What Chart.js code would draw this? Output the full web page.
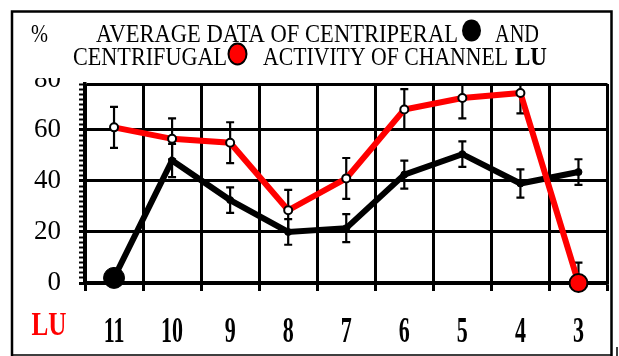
<!DOCTYPE html>
<html>
<head>
<meta charset="utf-8">
<script src="https://cdn.jsdelivr.net/npm/chart.js@4.4.1/dist/chart.umd.min.js"></script>
<style>
    body { margin: 0; background: #fff; }
    canvas { display: block; }
</style>
</head>
<body>
<canvas id="graficoLU" width="619" height="356"></canvas>
<script>
// datos del canal LU (puntos 11 -> 3)
const canales = ["11", "10", "9", "8", "7", "6", "5", "4", "3"];
const centrifuga = [61, 56.5, 55, 28.5, 41, 68, 72.5, 74.5, 0];
const errCentrifuga = [8, 8, 8, 8, 8, 8, 8, 8, 8];
const centripeta = [2, 48, 32.5, 20, 21.5, 42.5, 50.5, 39, 43.5];
const errCentripeta = [0, 6.5, 5, 5, 5.5, 5.5, 5, 5.5, 5];
const marcasY = [0, 20, 40, 60, 80];
const ejeYMax = 78;

const ROJO = "#ff0000";
const NEGRO = "#000000";
const SERIF = "'Liberation Serif', 'Times New Roman', serif";

// texto estirado a un ancho / alto de mayusculas dado
function textoAjustado(ctx, texto, x, base, fuente, ancho, altoMay, align) {
    ctx.save();
    ctx.font = fuente;
    ctx.textAlign = align || "left";
    ctx.textBaseline = "alphabetic";
    const m = ctx.measureText(texto);
    const sx = ancho ? ancho / m.width : 1;
    const sy = altoMay / m.actualBoundingBoxAscent;
    ctx.translate(x, base);
    ctx.scale(sx, sy);
    ctx.fillText(texto, 0, 0);
    ctx.restore();
}

function punto(ctx, x, y, rx, ry, relleno, borde) {
    ctx.beginPath();
    ctx.ellipse(x, y, rx, ry, 0, 0, Math.PI * 2);
    ctx.fillStyle = relleno;
    ctx.fill();
    if (borde) {
        ctx.lineWidth = 2;
        ctx.strokeStyle = borde;
        ctx.stroke();
    }
}

// barras de error (se dibujan antes que las lineas)
const barrasError = {
    id: "barrasError",
    beforeDatasetsDraw(chart) {
        const ctx = chart.ctx;
        const y = chart.scales.y;
        const area = chart.chartArea;
        const errores = [errCentrifuga, errCentripeta];
        ctx.save();
        ctx.beginPath();
        ctx.rect(area.left, area.top, area.right - area.left, area.bottom - area.top);
        ctx.clip();
        ctx.strokeStyle = NEGRO;
        ctx.lineWidth = 2.2;
        chart.data.datasets.forEach((ds, i) => {
            const meta = chart.getDatasetMeta(i);
            meta.data.forEach((p, j) => {
                const e = errores[i][j];
                if (!e) return;
                const yArr = y.getPixelForValue(ds.data[j] + e);
                const yAbj = y.getPixelForValue(ds.data[j] - e);
                ctx.beginPath();
                ctx.moveTo(p.x, yArr);
                ctx.lineTo(p.x, yAbj);
                ctx.moveTo(p.x - 4, yArr);
                ctx.lineTo(p.x + 4, yArr);
                ctx.moveTo(p.x - 4, yAbj);
                ctx.lineTo(p.x + 4, yAbj);
                ctx.stroke();
            });
        });
        ctx.restore();
    }
};

// titulo, etiquetas del eje X, "LU" y marco
const textos = {
    id: "textos",
    afterDraw(chart) {
        const ctx = chart.ctx;
        const x = chart.scales.x;
        const y = chart.scales.y;
        ctx.save();
        ctx.fillStyle = NEGRO;

        textoAjustado(ctx, "%", 31, 41.5, "22px " + SERIF, 17, 16.5);
        textoAjustado(ctx, "AVERAGE DATA OF CENTRIPERAL", 96, 41.5, "22px " + SERIF, 362, 16.5);
        punto(ctx, 471.5, 30.5, 9.5, 11, NEGRO);
        textoAjustado(ctx, "AND", 495, 41.5, "22px " + SERIF, 44, 16.5);

        textoAjustado(ctx, "CENTRIFUGAL", 73, 65, "22px " + SERIF, 154, 16.5);
        punto(ctx, 237.5, 54, 9, 10.5, ROJO, NEGRO);
        ctx.fillStyle = NEGRO;
        textoAjustado(ctx, "ACTIVITY OF CHANNEL", 263, 65, "22px " + SERIF, 245, 16.5);
        textoAjustado(ctx, "LU", 515, 65, "bold 22px " + SERIF, 32, 16.5);

        // etiqueta 80 cortada por arriba
        ctx.save();
        ctx.beginPath();
        ctx.rect(0, 78, 84, 20);
        ctx.clip();
        ctx.font = "27px " + SERIF;
        ctx.textAlign = "right";
        ctx.textBaseline = "middle";
        ctx.fillText(String(marcasY[4]), 61, y.getPixelForValue(marcasY[4]) + 1.5);
        ctx.restore();

        // etiquetas de los canales
        canales.forEach((c, i) => {
            textoAjustado(ctx, c, x.getPixelForTick(i), 341.5, "bold 22px " + SERIF, 0, 23, "center");
        });
        ctx.fillStyle = ROJO;
        textoAjustado(ctx, "LU", 31.5, 335, "bold 22px " + SERIF, 35, 21);

        // marco exterior
        ctx.strokeStyle = NEGRO;
        ctx.lineWidth = 2.5;
        ctx.beginPath();
        ctx.moveTo(12, 356);
        ctx.lineTo(12, 11.5);
        ctx.lineTo(611.5, 11.5);
        ctx.lineTo(611.5, 356);
        ctx.stroke();
        ctx.lineWidth = 1.5;
        ctx.beginPath();
        ctx.moveTo(12, 355);
        ctx.lineTo(611.5, 355);
        ctx.moveTo(617, 347);
        ctx.lineTo(617, 356);
        ctx.stroke();
        ctx.restore();
    }
};

const radioRojo = canales.map((c, i) => i === canales.length - 1 ? 9 : 4);
const rellenoRojo = canales.map((c, i) => i === canales.length - 1 ? ROJO : "#ffffff");
const radioNegro = canales.map((c, i) => i === 0 ? 10.5 : 3.5);

new Chart(document.getElementById("graficoLU").getContext("2d"), {
    type: "line",
    data: {
        labels: canales,
        datasets: [{
            label: "CENTRIFUGAL",
            data: centrifuga,
            borderColor: ROJO,
            borderWidth: 6,
            tension: 0,
            pointRadius: radioRojo,
            pointBackgroundColor: rellenoRojo,
            pointBorderColor: NEGRO,
            pointBorderWidth: 2,
            clip: false
        }, {
            label: "CENTRIPERAL",
            data: centripeta,
            borderColor: NEGRO,
            borderWidth: 6,
            tension: 0,
            pointRadius: radioNegro,
            pointBackgroundColor: NEGRO,
            pointBorderColor: NEGRO,
            pointBorderWidth: 1,
            clip: false
        }]
    },
    options: {
        responsive: false,
        animation: false,
        layout: { padding: { top: 84, right: 7.5, left: 0, bottom: 0 } },
        plugins: {
            legend: { display: false },
            tooltip: { enabled: false }
        },
        scales: {
            x: {
                type: "category",
                offset: true,
                grid: {
                    offset: true,
                    color: NEGRO,
                    lineWidth: 3,
                    drawTicks: true,
                    tickLength: 8,
                    tickColor: NEGRO,
                    tickWidth: 3
                },
                border: { color: NEGRO, width: 3.5 },
                ticks: { display: false },
                afterFit: s => { s.height = 73; }
            },
            y: {
                min: 0,
                max: ejeYMax,
                grid: {
                    color: c => (marcasY.includes(c.tick.value) || c.tick.value === ejeYMax) ? NEGRO : "rgba(0,0,0,0)",
                    lineWidth: 3,
                    drawTicks: true,
                    tickLength: 6,
                    tickColor: NEGRO,
                    tickWidth: c => marcasY.includes(c.tick.value) ? 3 : 2
                },
                border: { color: NEGRO, width: 3.5 },
                ticks: {
                    stepSize: 2,
                    autoSkip: false,
                    padding: 18,
                    color: NEGRO,
                    font: { family: "'Liberation Serif', 'Times New Roman', serif", size: 27 },
                    callback: v => marcasY.includes(v) ? v : ""
                },
                afterFit: s => { s.width = 85; }
            }
        }
    },
    plugins: [barrasError, textos]
});
</script>
</body>
</html>
